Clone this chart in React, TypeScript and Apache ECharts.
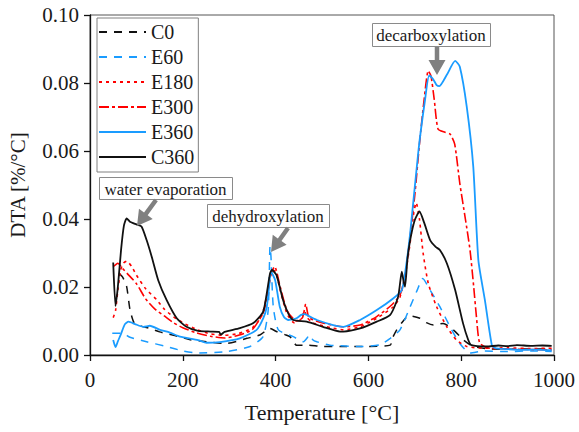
import React, { useEffect, useRef } from "react";
import * as echarts from "echarts";

const FONT = "Liberation Serif, Times New Roman, Times, DejaVu Serif, serif";
const TEXT = "#1a1a1a";

const seriesNames = ["C0", "E60", "E180", "E300", "E360", "C360"];

const C0: number[][] = [[62,0.024],[70,0.023],[79,0.0201],[86,0.0135],[95,0.0095],[110,0.0085],[129,0.0078],[150,0.0068],[180,0.0058],[216,0.0045],[251,0.0039],[295,0.0034],[338,0.0049],[366,0.0059],[388,0.0078],[402,0.0069],[420,0.006],[431,0.0054],[440,0.0035],[445,0.0029],[467,0.0029],[503,0.0025],[550,0.0025],[600,0.0025],[647,0.0029],[652,0.005],[661,0.0074],[672,0.0095],[682,0.0111],[690,0.0115],[711,0.0108],[725,0.0095],[740,0.0088],[761,0.0093],[783,0.0074],[805,0.0044],[826,0.0025],[860,0.0018],[900,0.0017],[950,0.0018],[995,0.0017]];

const E60: number[][] = [[48,0.0064],[70,0.0064],[86,0.0052],[122,0.0039],[165,0.0025],[200,0.0012],[230,0.0006],[295,0.001],[345,0.0025],[373,0.0054],[384,0.0132],[388,0.032],[390,0.029],[395,0.0142],[406,0.0074],[438,0.0054],[460,0.0039],[474,0.0059],[480,0.0045],[489,0.0039],[517,0.0029],[582,0.0025],[625,0.003],[647,0.0049],[668,0.0074],[690,0.0142],[705,0.019],[717,0.0225],[733,0.0191],[754,0.0142],[776,0.0083],[797,0.0034],[819,0.0006],[850,0.0012],[900,0.001],[950,0.0012],[995,0.001]];

const E180: number[][] = [[50,0.011],[55,0.013],[60,0.019],[66,0.025],[72,0.027],[79,0.0276],[90,0.026],[100,0.0235],[120,0.0195],[144,0.0162],[160,0.0135],[180,0.0112],[200,0.0095],[230,0.0075],[260,0.0062],[290,0.0058],[320,0.0063],[350,0.008],[370,0.0115],[385,0.02],[393,0.025],[400,0.0245],[410,0.019],[425,0.012],[440,0.0095],[455,0.0105],[462,0.013],[468,0.011],[480,0.0095],[520,0.008],[546,0.0074],[582,0.0083],[618,0.0108],[654,0.0142],[668,0.017],[680,0.024],[690,0.033],[698,0.042],[703,0.0448],[710,0.04],[718,0.0299],[729,0.0211],[747,0.0142],[769,0.0083],[790,0.0044],[812,0.0025],[850,0.002],[900,0.0021],[950,0.0019],[995,0.002]];

const E300: number[][] = [[50,0.026],[55,0.0265],[60,0.027],[70,0.0255],[80,0.024],[100,0.021],[120,0.0165],[140,0.0135],[160,0.0115],[180,0.0095],[200,0.008],[230,0.0065],[260,0.0055],[290,0.005],[320,0.0058],[350,0.0075],[375,0.013],[390,0.024],[398,0.026],[410,0.02],[425,0.013],[445,0.01],[458,0.011],[465,0.015],[472,0.011],[500,0.0095],[546,0.0083],[582,0.0088],[618,0.0113],[650,0.0147],[668,0.0176],[680,0.024],[690,0.035],[700,0.047],[710,0.062],[720,0.075],[729,0.0836],[735,0.082],[742,0.075],[750,0.0665],[765,0.0655],[776,0.065],[786,0.062],[797,0.0505],[809,0.04],[819,0.0309],[827,0.02],[833,0.011],[840,0.0035],[860,0.002],[900,0.0018],[950,0.0016],[995,0.0015]];

const E360: number[][] = [[50,0.0044],[55,0.0023],[60,0.004],[66,0.0059],[75,0.009],[83,0.0098],[97,0.0091],[115,0.0083],[129,0.0086],[151,0.0074],[172,0.0066],[194,0.0054],[233,0.0044],[251,0.0036],[280,0.0038],[323,0.0049],[359,0.0074],[374,0.011],[381,0.0142],[386,0.02],[390,0.0245],[399,0.022],[409,0.0142],[418,0.0112],[427,0.0103],[445,0.0108],[455,0.0118],[463,0.012],[475,0.0112],[489,0.0103],[524,0.0088],[546,0.0083],[582,0.0103],[618,0.0132],[654,0.0167],[672,0.0191],[680,0.025],[690,0.0358],[708,0.0603],[722,0.075],[731,0.0822],[740,0.081],[747,0.0794],[753,0.0791],[769,0.0824],[787,0.0865],[797,0.0848],[812,0.073],[826,0.0554],[837,0.0279],[851,0.0162],[866,0.0029],[873,0.002],[900,0.0017],[930,0.0015],[960,0.0016],[995,0.0014]];

const C360: number[][] = [[50,0.0272],[55,0.0144],[60,0.02],[67,0.031],[73,0.038],[79,0.0402],[86,0.0392],[100,0.0384],[111,0.0378],[122,0.0338],[133,0.0289],[147,0.022],[165,0.0162],[187,0.0108],[208,0.0083],[233,0.0071],[260,0.0069],[278,0.0068],[282,0.006],[290,0.0068],[323,0.0079],[352,0.0094],[373,0.0127],[382,0.019],[388,0.024],[392,0.025],[402,0.0235],[416,0.0162],[428,0.012],[438,0.0103],[467,0.0098],[502,0.0083],[539,0.0069],[546,0.0069],[582,0.0078],[618,0.0098],[647,0.0118],[664,0.0171],[672,0.0245],[676,0.0215],[679,0.0201],[684,0.028],[690,0.0338],[700,0.0397],[710,0.0422],[720,0.039],[733,0.0338],[745,0.0318],[754,0.0309],[769,0.027],[787,0.0191],[804,0.0093],[815,0.0045],[822,0.0029],[855,0.0025],[880,0.0028],[900,0.0026],[920,0.0029],[950,0.0027],[975,0.0028],[995,0.0027]];

const seriesData = [C0, E60, E180, E300, E360, C360];
const seriesColors = ["#111111", "#1a9cff", "#ff0000", "#ff0000", "#1a9cff", "#111111"];
const seriesDash: any[] = [[8, 7], [8, 7], [3, 4], [10, 3, 3, 3], "solid", "solid"];
const seriesWidth = [1.5, 1.5, 1.6, 1.6, 1.8, 1.8];

const annotations = [
  { text: "water evaporation", box: [99, 177, 133, 22], from: [156, 200], to: [137, 226] },
  { text: "dehydroxylation", box: [207, 204, 122, 23], from: [288, 228], to: [271, 252] },
  { text: "decarboxylation", box: [372, 23, 118, 23], from: [437, 47], to: [437, 75] },
];

function arrowPoints(from: number[], to: number[], shaft = 4.5, headLen = 15, headW = 17) {
  const dx = to[0] - from[0];
  const dy = to[1] - from[1];
  const len = Math.sqrt(dx * dx + dy * dy);
  const ux = dx / len, uy = dy / len;
  const nx = -uy, ny = ux;
  const bx = to[0] - ux * headLen, by = to[1] - uy * headLen;
  const s = shaft / 2, h = headW / 2;
  return [
    [from[0] + nx * s, from[1] + ny * s],
    [bx + nx * s, by + ny * s],
    [bx + nx * h, by + ny * h],
    [to[0], to[1]],
    [bx - nx * h, by - ny * h],
    [bx - nx * s, by - ny * s],
    [from[0] - nx * s, from[1] - ny * s],
  ];
}

export default function App() {
  const ref = useRef<HTMLDivElement>(null);
  useEffect(() => {
    if (!ref.current) return;
    const chart = echarts.init(ref.current, undefined, { renderer: "svg" });
    const graphics: any[] = [];
    annotations.forEach((a) => {
      graphics.push({
        type: "rect",
        shape: { x: a.box[0] + 0.5, y: a.box[1] + 0.5, width: a.box[2], height: a.box[3] },
        style: { fill: "#ffffff", stroke: "#8a8a8a", lineWidth: 1 },
        z: 100,
      });
      graphics.push({
        type: "text",
        x: a.box[0] + a.box[2] / 2,
        y: a.box[1] + a.box[3] / 2 + 1,
        style: {
          text: a.text,
          fill: TEXT,
          fontFamily: FONT,
          fontSize: 17,
          textAlign: "center",
          textVerticalAlign: "middle",
        },
        z: 101,
      });
      graphics.push({
        type: "polygon",
        shape: { points: arrowPoints(a.from, a.to) },
        style: { fill: "#808080", stroke: "none" },
        z: 100,
      });
    });

    chart.setOption({
      animation: false,
      backgroundColor: "#ffffff",
      textStyle: { fontFamily: FONT },
      grid: {
        left: 90,
        right: 25,
        top: 15,
        bottom: 77,
        show: true,
        borderColor: "#555555",
        borderWidth: 1,
        containLabel: false,
        outerBoundsMode: "none",
      },
      legend: {
        orient: "vertical",
        left: 97,
        top: 18,
        padding: [4, 4, 5, 1],
        itemGap: 5,
        itemWidth: 47,
        itemHeight: 14,
        backgroundColor: "#ffffff",
        borderColor: "#808080",
        borderWidth: 1,
        itemStyle: { color: "rgba(0,0,0,0)", borderColor: "rgba(0,0,0,0)", borderWidth: 0 },
        textStyle: { fontFamily: FONT, fontSize: 20, color: TEXT, lineHeight: 20 },
        data: seriesNames,
        z: 50,
      },
      xAxis: {
        type: "value",
        min: 0,
        max: 1000,
        interval: 200,
        name: "Temperature [°C]",
        nameLocation: "middle",
        nameGap: 46,
        nameTextStyle: { fontFamily: FONT, fontSize: 22, color: TEXT },
        axisLine: { show: true, onZero: false, lineStyle: { color: "#111", width: 1.3 } },
        axisTick: { show: true, inside: false, length: 6, lineStyle: { color: "#111", width: 1.3 } },
        axisLabel: {
          fontFamily: FONT,
          fontSize: 21,
          color: TEXT,
          margin: 14,
          formatter: (v: number) => String(v),
        },
        splitLine: { show: false },
      },
      yAxis: {
        type: "value",
        min: 0,
        max: 0.1,
        interval: 0.02,
        name: "DTA [%/°C]",
        nameLocation: "middle",
        nameGap: 62,
        nameTextStyle: { fontFamily: FONT, fontSize: 21, color: TEXT },
        axisLine: { show: true, onZero: false, lineStyle: { color: "#111", width: 1.3 } },
        axisTick: { show: true, inside: false, length: 6, lineStyle: { color: "#111", width: 1.3 } },
        axisLabel: {
          fontFamily: FONT,
          fontSize: 21,
          color: TEXT,
          margin: 11,
          formatter: (v: number) => v.toFixed(2),
        },
        splitLine: { show: false },
      },
      series: seriesNames.map((name, i) => ({
        name,
        type: "line",
        data: seriesData[i],
        symbol: "none",
        smooth: 0.2,
        color: seriesColors[i],
        lineStyle: { color: seriesColors[i], width: seriesWidth[i], type: seriesDash[i] },
        z: 2 + i,
      })),
      graphic: graphics,
    });
    return () => chart.dispose();
  }, []);
  return <div ref={ref} style={{ width: 579, height: 432, position: "absolute", left: 0, top: 0 }} />;
}
